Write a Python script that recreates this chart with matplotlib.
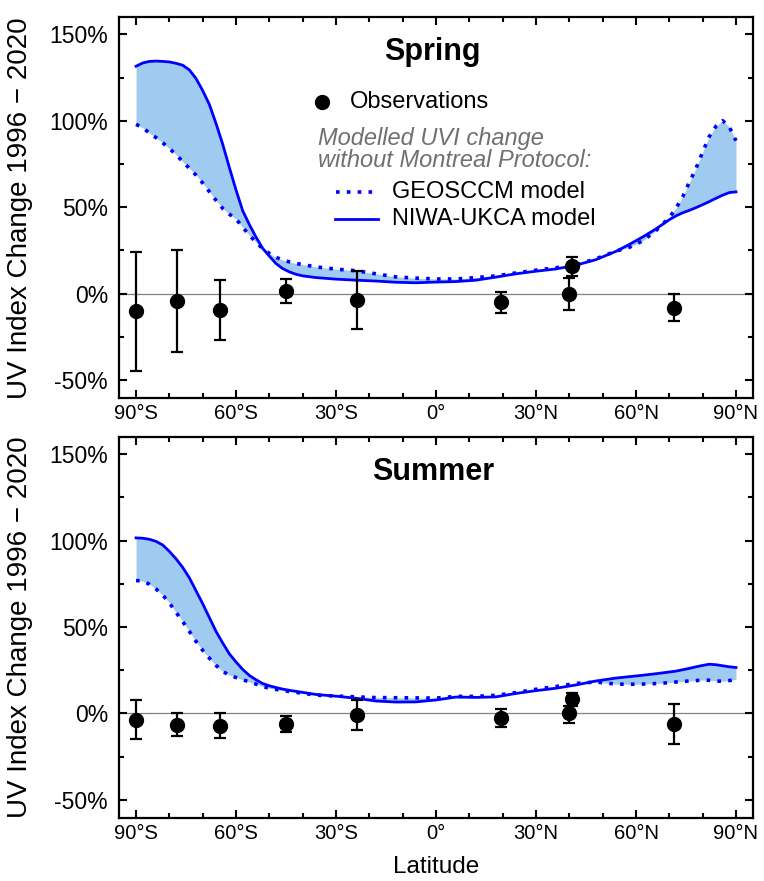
import matplotlib
matplotlib.use("Agg")
import matplotlib.pyplot as plt
import numpy as np
from matplotlib.ticker import MultipleLocator, FuncFormatter

plt.rcParams['font.family'] = ['Liberation Sans', 'DejaVu Sans']

# observation sites (latitude) and values
obs_lat = [-90, -77.8, -64.8, -45, -23.7, 19.5, 40.0, 40.7, 71.3]
spring_obs = [-10.3, -4.5, -9.3, 1.4, -3.9, -5.0, 0.0, 15.9, -8.3]
spring_lo = [-44.6, -33.5, -26.7, -5.4, -20.5, -10.9, -9.3, 10.1, -15.7]
spring_hi = [24.0, 25.2, 8.1, 8.5, 13.0, 1.2, 9.1, 21.3, -0.2]
summer_obs = [-3.5, -6.8, -7.0, -6.0, -1.0, -2.9, 0.0, 8.1, -6.0]
summer_lo = [-14.7, -13.2, -14.1, -10.8, -9.7, -8.0, -5.8, 4.3, -17.6]
summer_hi = [7.6, 0.0, 0.0, -1.5, 7.6, 2.3, 4.3, 11.6, 5.2]

# model curves
lat = [-90, -88, -86, -84, -82, -80, -78, -76, -74, -72, -70, -68, -66, -64, -62,
       -60, -58, -56, -54, -52, -50, -48, -46, -44, -42, -40, -36, -30, -24, -18,
       -12, -6, 0, 6, 12, 18, 24, 30, 36, 42, 48, 54, 58, 62, 66, 70, 72, 74, 76,
       78, 80, 82, 84, 86, 88, 90]
spring_niwa = [131.6, 133.5, 134.4, 134.6, 134.4, 134.1, 133.3, 132.2, 129.5, 124.5,
               117.5, 109.5, 98.5, 86.5, 73.0, 60.0, 48.0, 40.0, 32.7, 26.2, 21.7,
               17.4, 14.5, 12.6, 11.2, 10.3, 9.3, 8.4, 7.8, 7.3, 6.6, 6.3, 6.7, 7.0,
               7.8, 9.6, 11.5, 13.0, 14.3, 16.5, 19.7, 24.5, 28.5, 32.8, 37.5, 42.8,
               45.0, 46.8, 48.2, 49.8, 51.5, 53.3, 55.2, 57.0, 58.5, 58.9]
spring_geos = [98.0, 96.0, 93.0, 90.3, 87.3, 84.0, 80.5, 76.4, 72.5, 68.6, 64.0,
               59.0, 54.0, 49.3, 46.0, 43.2, 38.5, 33.8, 29.8, 26.0, 23.3, 21.0, 19.5,
               18.4, 17.5, 16.8, 15.5, 14.2, 13.3, 11.5, 9.7, 9.0, 8.5, 8.5, 9.3, 10.3,
               12.0, 13.6, 15.0, 16.7, 20.2, 24.6, 26.8, 30.5, 36.5, 44.0, 49.5, 56.0,
               64.5, 72.5, 82.0, 91.0, 96.9, 100.1, 96.5, 88.5]
summer_niwa = [101.6, 101.4, 100.8, 99.6, 97.5, 93.8, 89.5, 84.5, 78.5, 71.0, 63.5,
               55.5, 47.5, 40.8, 34.5, 29.8, 25.5, 22.0, 19.5, 17.3, 16.0, 15.0, 14.1,
               13.4, 12.8, 12.2, 11.0, 10.0, 8.8, 7.2, 6.6, 6.7, 7.8, 9.5, 9.3, 9.6,
               11.6, 13.2, 14.6, 16.5, 18.8, 20.5, 21.3, 22.1, 23.0, 24.0, 24.5, 25.3,
               26.1, 27.0, 27.8, 28.5, 28.2, 27.6, 27.0, 26.6]
summer_geos = [76.9, 76.6, 74.8, 72.0, 68.5, 64.0, 58.5, 53.2, 47.5, 41.7, 36.5,
               32.0, 27.8, 24.3, 22.2, 20.8, 19.5, 18.3, 17.0, 15.6, 14.6, 13.9, 13.3,
               12.7, 12.2, 11.7, 10.6, 10.1, 9.6, 9.2, 9.1, 9.0, 8.9, 9.9, 9.9, 10.5,
               12.1, 14.0, 15.6, 17.4, 18.2, 17.0, 16.9, 17.0, 17.3, 17.8, 18.2, 18.5,
               18.8, 19.0, 19.4, 19.2, 18.8, 18.6, 19.0, 19.8]

xtick_vals = [-90, -60, -30, 0, 30, 60, 90]
xtick_labels = ['90°S', '60°S', '30°S', '0°', '30°N', '60°N', '90°N']

blue = '#0000ff'
fillc = '#a0cbf0'

fig = plt.figure(figsize=(7.64, 8.81), dpi=100)
ax1 = fig.add_axes([0.1558, 0.548, 0.8298, 0.4325])
ax2 = fig.add_axes([0.1558, 0.0715, 0.8298, 0.4325])


def panel(ax, title, niwa, geos, obs, lo, hi):
    ax.fill_between(lat, niwa, geos, color=fillc, lw=0, zorder=1)
    ax.axhline(0, color='#808080', lw=0.9, zorder=1)
    ax.plot(lat, niwa, color=blue, lw=2.0, zorder=3)
    ax.plot(lat, geos, color=blue, lw=2.6, linestyle=(0, (1, 2)), zorder=3)
    obs = np.array(obs)
    yerr = [obs - np.array(lo), np.array(hi) - obs]
    ax.errorbar(obs_lat, obs, yerr=yerr, fmt='o', color='black', ms=10,
                elinewidth=1.6, capsize=4, capthick=1.6, zorder=4)
    ax.set_xlim(-95.1, 95.1)
    ax.set_ylim(-60.5, 160)
    ax.set_xticks(xtick_vals)
    ax.set_xticklabels(xtick_labels, fontsize=14.5)
    ax.xaxis.set_minor_locator(MultipleLocator(10))
    ax.yaxis.set_major_locator(MultipleLocator(50))
    ax.yaxis.set_minor_locator(MultipleLocator(25))
    ax.yaxis.set_major_formatter(FuncFormatter(lambda v, p: '%d%%' % v))
    for lab in ax.get_yticklabels():
        lab.set_fontsize(16.5)
    ax.tick_params(which='both', direction='in', top=True, right=True, width=1.5)
    ax.tick_params(which='major', length=5.5)
    ax.tick_params(which='minor', length=3.5)
    ax.tick_params(axis='x', pad=4)
    ax.tick_params(axis='y', pad=8)
    for s in ax.spines.values():
        s.set_linewidth(1.6)
    ax.set_ylabel('UV Index Change 1996 \u2212 2020', fontsize=20)
    ax.yaxis.set_label_coords(-0.136, 0.5)
    ax.text(0.495, 0.908, title, transform=ax.transAxes, ha='center', va='center',
            fontsize=22, fontweight='bold')


panel(ax1, 'Spring', spring_niwa, spring_geos, spring_obs, spring_lo, spring_hi)
panel(ax2, 'Summer', summer_niwa, summer_geos, summer_obs, summer_lo, summer_hi)

ax2.set_xlabel('Latitude', fontsize=17.5, labelpad=10)

# legend drawn by hand in axes coordinates
tr = ax1.transAxes
ax1.plot([0.320], [0.777], 'o', color='black', ms=10, transform=tr, clip_on=False)
ax1.text(0.364, 0.777, 'Observations', transform=tr, va='center', fontsize=17)
ax1.text(0.314, 0.682, 'Modelled UVI change', transform=tr, va='center',
         fontsize=17, style='italic', color='#707070')
ax1.text(0.314, 0.625, 'without Montreal Protocol:', transform=tr, va='center',
         fontsize=17, style='italic', color='#707070')
ax1.plot([0.343, 0.401], [0.541, 0.541], color=blue, lw=2.6, linestyle=(0, (1, 2)),
         transform=tr)
ax1.text(0.431, 0.541, 'GEOSCCM model', transform=tr, va='center', fontsize=17)
ax1.plot([0.341, 0.408], [0.470, 0.470], color=blue, lw=2.0, transform=tr)
ax1.text(0.431, 0.470, 'NIWA-UKCA model', transform=tr, va='center', fontsize=17)

fig.savefig('out.png', dpi=100)
